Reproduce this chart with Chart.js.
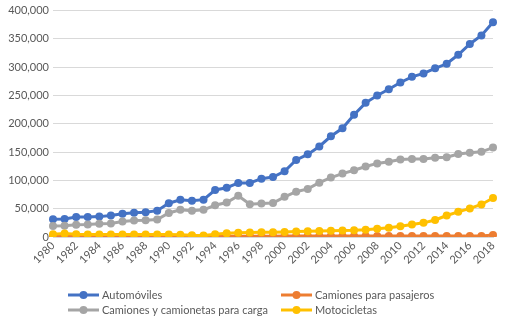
<!DOCTYPE html>
<html>
<head>
<meta charset="utf-8">
<script src="https://cdn.jsdelivr.net/npm/chart.js@4.4.1/dist/chart.umd.min.js"></script>
<style>
  html, body { margin: 0; padding: 0; background: #fff; }
</style>
</head>
<body>
<canvas id="grafico" width="507" height="321"></canvas>
<script>
const anni = [];
for (let a = 1980; a <= 2018; a++) anni.push(String(a));

const automoviles = [31500, 32000, 35500, 35500, 36000, 37900, 41000, 43000, 43600, 46500,
    59700, 65600, 64000, 66000, 83000, 87000, 95500, 95500, 103000, 106000,
    116000, 136000, 146000, 160000, 178000, 192000, 216000, 237000, 250000, 261000,
    273000, 283000, 289000, 298000, 306000, 322000, 341000, 356000, 379500];

const camionesPasajeros = [1500, 1500, 1500, 1500, 1500, 1500, 1500, 1500, 1500, 1500,
    1500, 1500, 1500, 1500, 1500, 1500, 1500, 1500, 1500, 1500,
    1800, 1800, 1800, 1800, 1800, 1800, 1800, 1800, 1800, 1800,
    1800, 1800, 1800, 1800, 1800, 1800, 1800, 1800, 3500];

const camionesCarga = [19400, 20000, 21600, 22000, 23400, 24000, 27500, 29000, 29500, 31000,
    42400, 48000, 46500, 48000, 56000, 61000, 73000, 58000, 59000, 60000,
    71000, 80000, 85000, 96000, 105000, 112000, 118000, 124500, 130000, 133000,
    137000, 138000, 138000, 140000, 141000, 146500, 149000, 150500, 158000];

const motocicletas = [5000, 6000, 5000, 4500, 4500, 4500, 4500, 4500, 4500, 4500,
    4500, 4000, 3000, 2500, 5000, 6500, 7500, 8000, 8500, 8500,
    9000, 9500, 10000, 10500, 11000, 11500, 12000, 13000, 14500, 16500,
    19000, 22000, 25000, 30000, 38000, 44500, 50500, 57500, 69000];

const etichette = ['Automóviles', 'Camiones para pasajeros', 'Camiones y camionetas para carga', 'Motocicletas'];
const colori = ['#4472c4', '#ed7d31', '#a5a5a5', '#ffc000'];
const serie = [automoviles, camionesPasajeros, camionesCarga, motocicletas];
// ordine di disegno come in Excel: l'ultima serie sta sopra
const ordine = [3, 2, 1, 0];

const grigioTesto = '#595959';
const font = 'Lato, "Liberation Sans", sans-serif';

// legenda su due colonne disegnata a mano
const legendaPlugin = {
    id: 'legenda',
    afterDraw(chart) {
        const ctx = chart.ctx;
        const pos = [[68, 295], [281, 295], [68, 310], [281, 310]];
        ctx.save();
        ctx.font = '11px ' + font;
        ctx.textBaseline = 'middle';
        chart.data.datasets.forEach((ds, i) => {
            const [x, y] = pos[i];
            ctx.strokeStyle = ds.borderColor;
            ctx.lineWidth = 3;
            ctx.beginPath();
            ctx.moveTo(x, y);
            ctx.lineTo(x + 31, y);
            ctx.stroke();
            ctx.fillStyle = ds.backgroundColor;
            ctx.beginPath();
            ctx.arc(x + 15.5, y, 4, 0, Math.PI * 2);
            ctx.fill();
            ctx.fillStyle = grigioTesto;
            ctx.fillText(ds.label, x + 34, y);
        });
        ctx.restore();
    }
};

const ctx = document.getElementById('grafico').getContext('2d');
new Chart(ctx, {
    type: 'line',
    data: {
        labels: anni,
        datasets: serie.map((dati, i) => ({
            label: etichette[i],
            data: dati,
            borderColor: colori[i],
            backgroundColor: colori[i],
            borderWidth: 3,
            pointRadius: 4,
            pointHoverRadius: 4,
            pointBorderWidth: 0,
            tension: 0,
            order: ordine[i]
        }))
    },
    options: {
        responsive: false,
        animation: false,
        layout: { padding: { left: 0, right: 14, top: 6, bottom: 0 } },
        plugins: {
            legend: { display: false },
            tooltip: { enabled: false }
        },
        scales: {
            x: {
                offset: false,
                grid: { display: false, drawTicks: false },
                border: { color: '#d9d9d9' },
                ticks: {
                    autoSkip: false,
                    minRotation: 45,
                    maxRotation: 45,
                    padding: 2,
                    color: grigioTesto,
                    font: { family: font, size: 11 },
                    callback: (v, i) => (i % 2 === 0 ? anni[i] : '')
                },
                afterFit: (s) => { s.height = 84; }
            },
            y: {
                min: 0,
                max: 400000,
                grid: { color: '#d9d9d9', drawTicks: false },
                border: { display: false },
                ticks: {
                    stepSize: 50000,
                    padding: 4,
                    color: grigioTesto,
                    font: { family: font, size: 11 },
                    callback: (v) => v.toLocaleString('en-US')
                },
                afterFit: (s) => { s.width = 53; }
            }
        }
    },
    plugins: [legendaPlugin]
});
</script>
</body>
</html>
